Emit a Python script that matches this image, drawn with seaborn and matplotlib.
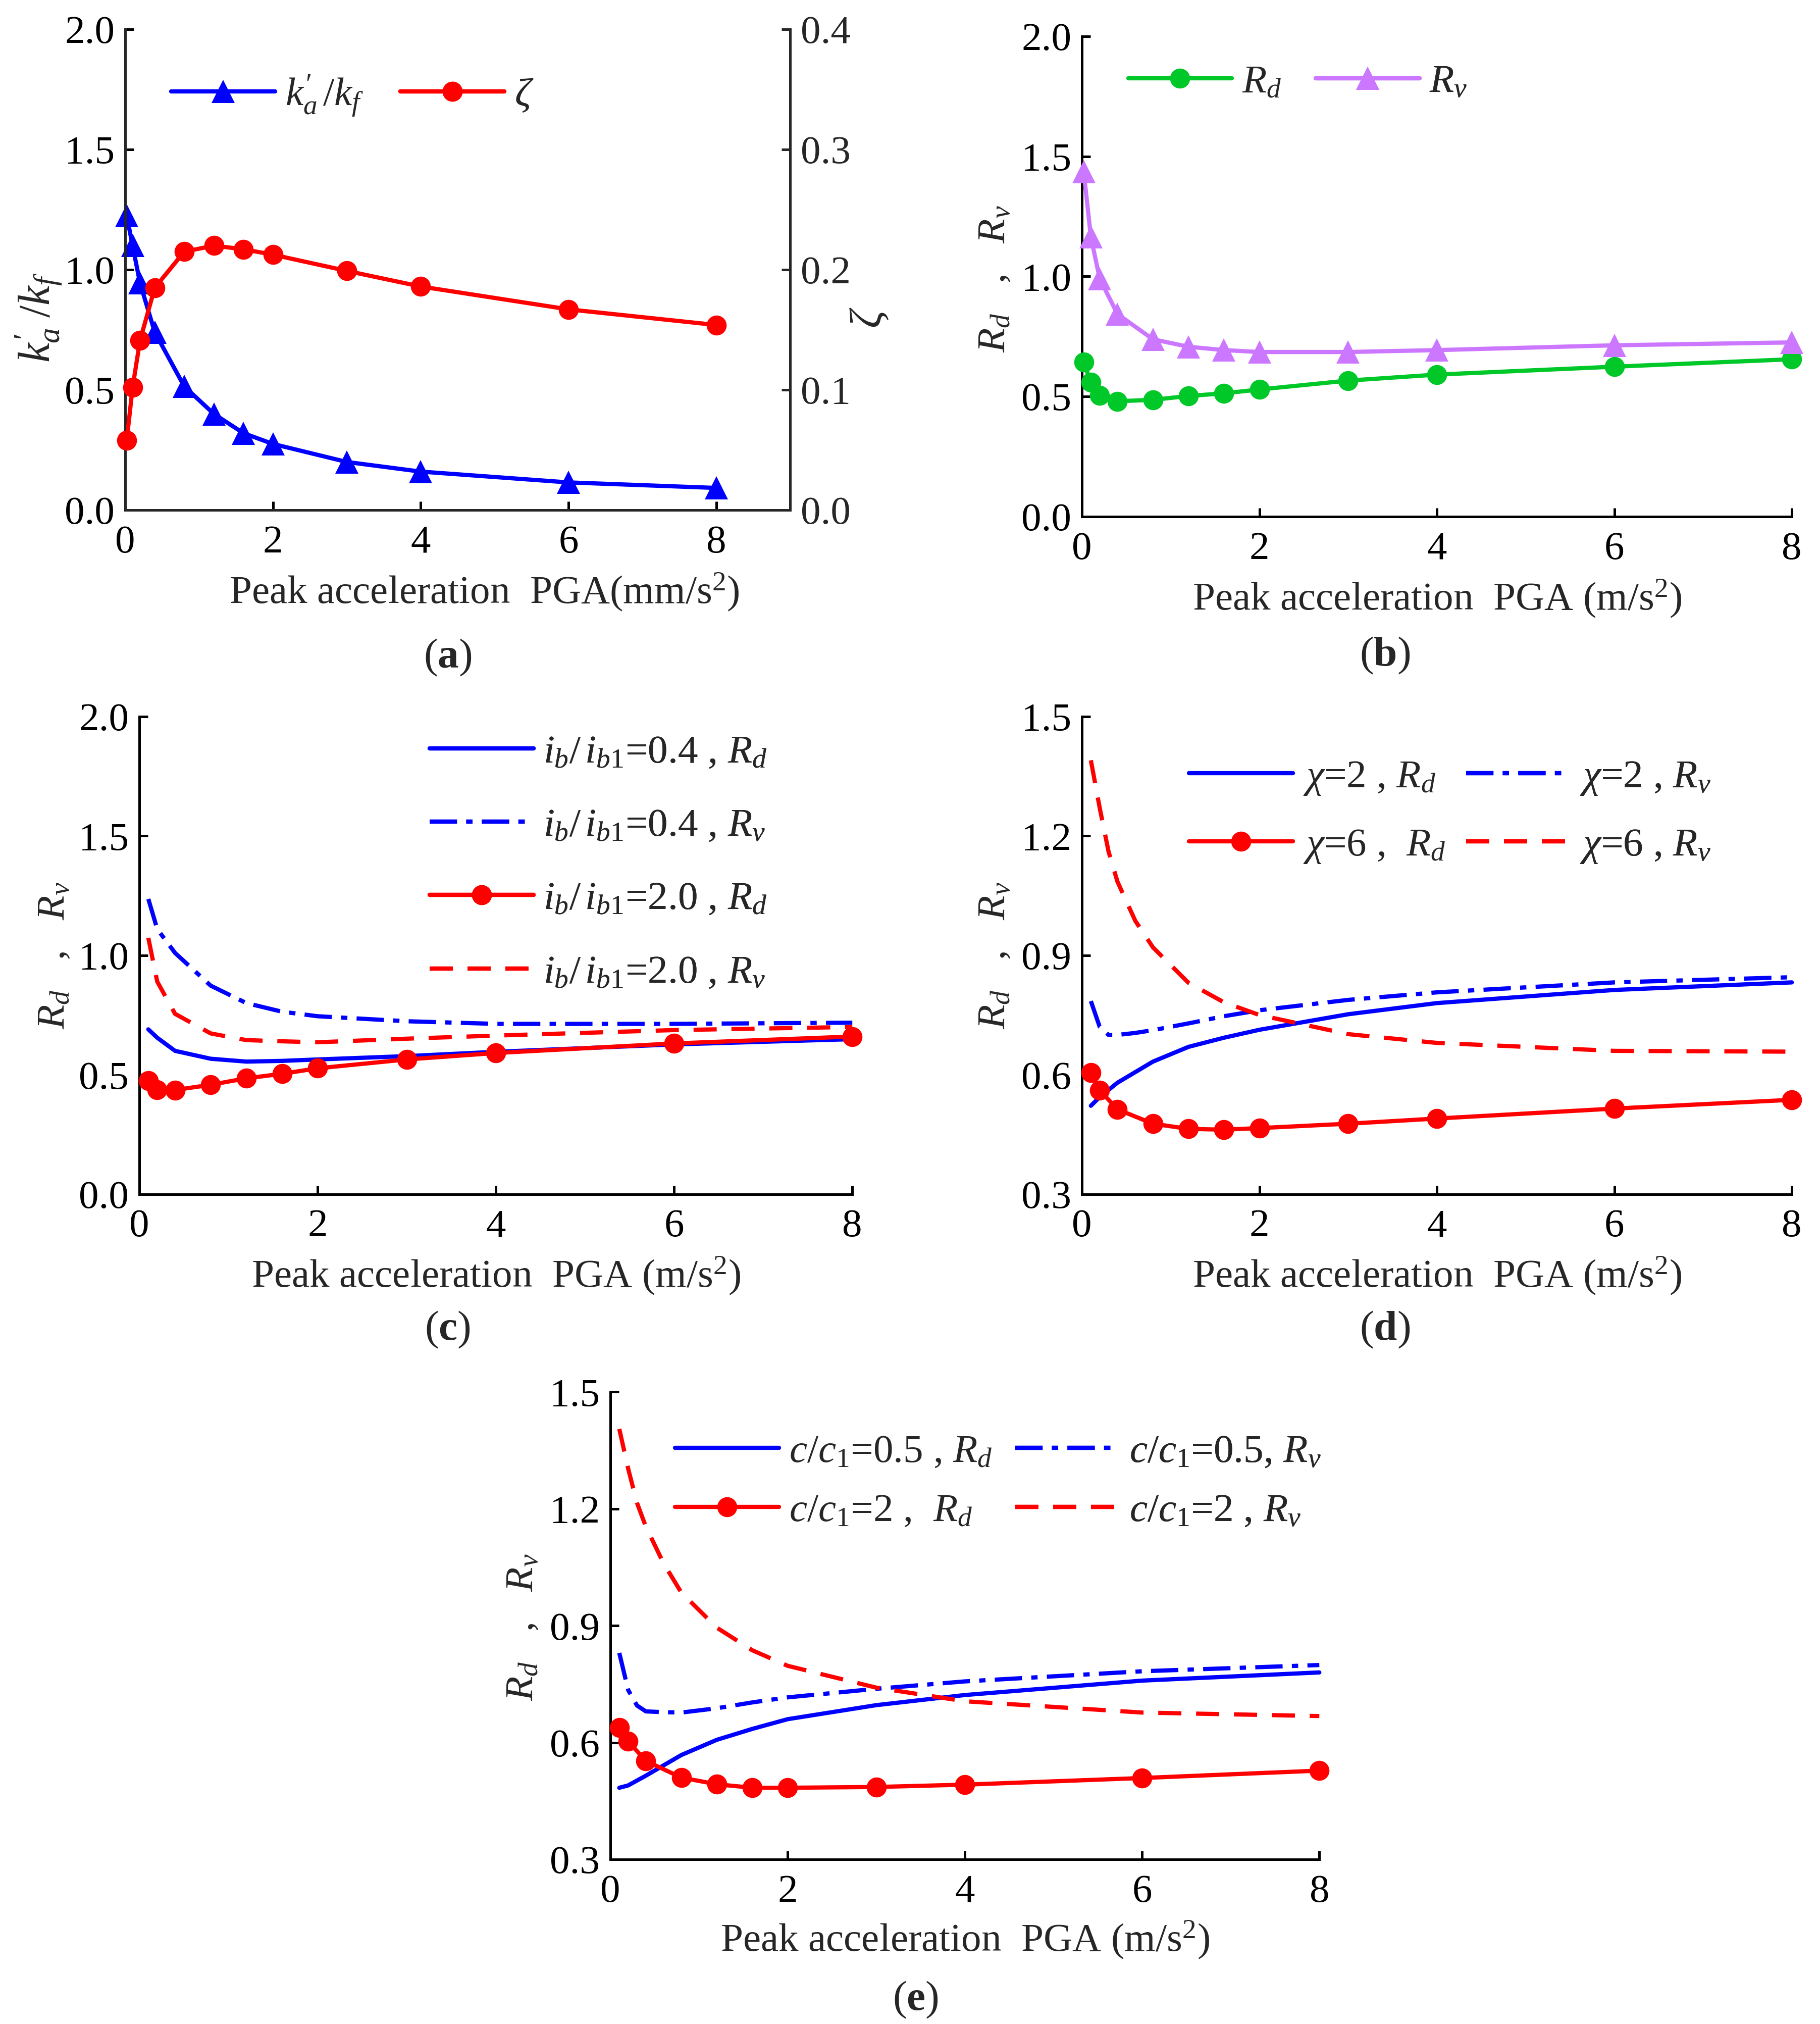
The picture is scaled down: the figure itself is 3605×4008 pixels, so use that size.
import numpy as np
import pandas as pd
import matplotlib
matplotlib.use("Agg")
import matplotlib.pyplot as plt
import seaborn as sns
from matplotlib.ticker import FormatStrFormatter, MultipleLocator

# ---- datos ----
pga_ab = [0.02, 0.1, 0.2, 0.4, 0.8, 1.2, 1.6, 2, 3, 4, 6, 8]
ka_kf = [1.225, 1.10, 0.945, 0.74, 0.514, 0.40, 0.32, 0.275, 0.20, 0.16, 0.115, 0.092]
zeta = [0.058, 0.102, 0.141, 0.185, 0.215, 0.220, 0.217, 0.2125, 0.199, 0.186, 0.167, 0.154]

rd_b = [0.644, 0.558, 0.504, 0.48, 0.486, 0.502, 0.513, 0.529, 0.566, 0.591, 0.624, 0.655]
rv_b = [1.435, 1.164, 0.99, 0.843, 0.738, 0.707, 0.693, 0.685, 0.685, 0.693, 0.713, 0.725]

pga = [0.1, 0.2, 0.4, 0.8, 1.2, 1.6, 2, 3, 4, 6, 8]
pga_v = [0.1, 0.2, 0.3, 0.4, 0.6, 0.8, 1.2, 1.6, 2, 3, 4, 6, 8]

# (c) i_b / i_b1
rd_c04 = [0.69, 0.655, 0.60, 0.567, 0.555, 0.558, 0.564, 0.578, 0.596, 0.627, 0.649]
rv_c04 = [1.236, 1.11, 1.01, 0.873, 0.80, 0.764, 0.745, 0.724, 0.713, 0.713, 0.718]
rd_c20 = [0.476, 0.438, 0.436, 0.458, 0.485, 0.504, 0.527, 0.564, 0.591, 0.631, 0.66]
rv_c20 = [1.073, 0.89, 0.755, 0.673, 0.645, 0.64, 0.636, 0.651, 0.664, 0.687, 0.70]

# (d) chi
rd_d2 = [0.522, 0.544, 0.58, 0.633, 0.67, 0.693, 0.713, 0.752, 0.78, 0.813, 0.832]
rv_d2 = [0.785, 0.72, 0.70, 0.70, 0.705, 0.712, 0.729, 0.747, 0.762, 0.788, 0.807, 0.832, 0.845]
rd_d6 = [0.605, 0.561, 0.513, 0.477, 0.464, 0.462, 0.466, 0.477, 0.49, 0.515, 0.537]
rv_d6 = [1.39, 1.27, 1.16, 1.085, 0.987, 0.92, 0.831, 0.782, 0.75, 0.702, 0.68, 0.66, 0.658]

# (e) c / c1
rd_e05 = [0.484, 0.49, 0.515, 0.568, 0.607, 0.635, 0.66, 0.696, 0.722, 0.759, 0.78]
rv_e05 = [0.83, 0.735, 0.695, 0.68, 0.678, 0.677, 0.688, 0.703, 0.716, 0.738, 0.757, 0.783, 0.799]
rd_e2 = [0.638, 0.603, 0.553, 0.51, 0.493, 0.484, 0.484, 0.486, 0.492, 0.509, 0.528]
rv_e2 = [1.405, 1.303, 1.215, 1.154, 1.06, 0.985, 0.895, 0.837, 0.797, 0.741, 0.706, 0.677, 0.668]

BLUE = "#0000FF"
RED = "#FF0000"
GREEN = "#00C828"
VIOLET = "#CC77FF"
FS = 19

sns.set_style("ticks")
plt.rcParams['font.family'] = ['Liberation Serif', 'DejaVu Serif']
plt.rcParams['mathtext.fontset'] = 'custom'
plt.rcParams['mathtext.rm'] = 'Liberation Serif'
plt.rcParams['mathtext.it'] = 'Liberation Serif:italic'
plt.rcParams['mathtext.bf'] = 'Liberation Serif:bold'
plt.rcParams['axes.linewidth'] = 1.2

DASH = (5.5, 3.5)
DASHDOT = (6.5, 2.2, 1.5, 2.2)


def linea(ax, x, y, color, marker=None, ms=9.5, dashes=None, label=None):
    sns.lineplot(x=x, y=y, ax=ax, color=color, lw=2.0, marker=marker,
                 markersize=ms, markeredgewidth=0, clip_on=False,
                 label=label, legend=False, zorder=3)
    ln = ax.lines[-1]
    if dashes is not None:
        ln.set_dashes(dashes)
    ln.set_label(label)
    return ln


def estilo(ax, ylim, ystep, xmax=8):
    ax.set_xlim(0, xmax)
    ax.set_ylim(*ylim)
    ax.xaxis.set_major_locator(MultipleLocator(2))
    ax.yaxis.set_major_locator(MultipleLocator(ystep))
    ax.yaxis.set_major_formatter(FormatStrFormatter('%.1f'))
    ax.tick_params(direction='in', length=4, width=1.2, labelsize=FS,
                   colors='black')
    ax.tick_params(axis='x', pad=7)
    ax.tick_params(axis='y', pad=5)
    ax.spines['top'].set_visible(False)
    ax.spines['right'].set_visible(False)
    for s in ax.spines.values():
        s.set_color('black')
    ax.grid(False)


def leyenda(ax, handles, x, y, spacing=0.5):
    leg = ax.legend(handles=handles, labels=[h.get_label() for h in handles],
                    loc='center left', bbox_to_anchor=(x, y), frameon=False,
                    borderpad=0, borderaxespad=0, handlelength=2.6,
                    handletextpad=0.25, labelspacing=spacing, fontsize=FS)
    ax.add_artist(leg)
    return leg


def xlabel(ax, text, x=0.5):
    ax.set_xlabel(text, fontsize=FS)
    ax.xaxis.set_label_coords(x, -0.128)


def ylabel(ax, x, y=0.5):
    ax.set_ylabel(r"$R_d$   ,   $R_v$", fontsize=FS)
    ax.yaxis.set_label_coords(x, y)


fig = plt.figure(figsize=(3605 / 300, 4008 / 300), dpi=300)

# ---- (a) ----
axa = fig.add_axes([0.0688, 0.748, 0.3653, 0.2375])
axa2 = axa.twinx()
la = linea(axa, pga_ab, ka_kf, BLUE, marker='^', ms=11, label=r"$k_a^{\prime}\,/k_f$")
lz = linea(axa2, pga_ab, zeta, RED, marker='o', label=r"$\zeta$")
estilo(axa, (0, 2.0), 0.5, xmax=9)
axa.set_xticks([0, 2, 4, 6, 8])
axa2.set_ylim(0, 0.4)
axa2.yaxis.set_major_locator(MultipleLocator(0.1))
axa2.yaxis.set_major_formatter(FormatStrFormatter('%.1f'))
axa2.tick_params(direction='in', length=4, width=1.2, labelsize=FS, pad=5)
axa2.spines['top'].set_visible(False)
axa2.spines['right'].set_visible(True)
axa2.grid(False)
axa.set_ylabel(r"$k_a^{\prime}\;/k_f$", fontsize=FS + 2)
axa.yaxis.set_label_coords(-0.093, 0.40)
axa2.set_ylabel(r"$\zeta$", fontsize=FS + 2)
axa2.yaxis.set_label_coords(1.09, 0.40)
xlabel(axa, r"Peak acceleration  PGA(mm/s$^2$)", x=0.54)
leyenda(axa2, [la], 0.069, 0.862)
leyenda(axa2, [lz], 0.414, 0.862)

# ---- (b) ----
axb = fig.add_axes([0.5945, 0.7448, 0.390, 0.2373])
lb1 = linea(axb, pga_ab, rd_b, GREEN, marker='o', label=r"$R_d$")
lb2 = linea(axb, pga_ab, rv_b, VIOLET, marker='^', ms=11, label=r"$R_v$")
estilo(axb, (0, 2.0), 0.5)
ylabel(axb, -0.097, 0.495)
xlabel(axb, r"Peak acceleration  PGA (m/s$^2$)")
leyenda(axb, [lb1], 0.065, 0.903)
leyenda(axb, [lb2], 0.329, 0.903)

# ---- (c) ----
axc = fig.add_axes([0.0766, 0.41, 0.3917, 0.236])
lc1 = linea(axc, pga, rd_c04, BLUE, label=r"$i_b/\,i_{b1}$=0.4 , $R_d$")
lc2 = linea(axc, pga, rv_c04, BLUE, dashes=DASHDOT, label=r"$i_b/\,i_{b1}$=0.4 , $R_v$")
lc3 = linea(axc, pga, rd_c20, RED, marker='o', label=r"$i_b/\,i_{b1}$=2.0 , $R_d$")
lc4 = linea(axc, pga, rv_c20, RED, dashes=DASH, label=r"$i_b/\,i_{b1}$=2.0 , $R_v$")
estilo(axc, (0, 2.0), 0.5)
ylabel(axc, -0.094)
xlabel(axc, r"Peak acceleration  PGA (m/s$^2$)")
leyenda(axc, [lc1, lc2, lc3, lc4], 0.407, 0.694, spacing=0.92)

# ---- (d) ----
axd = fig.add_axes([0.5945, 0.41, 0.390, 0.236])
ld1 = linea(axd, pga, rd_d2, BLUE, label=r"$\chi$=2 , $R_d$")
ld2 = linea(axd, pga_v, rv_d2, BLUE, dashes=DASHDOT, label=r"$\chi$=2 , $R_v$")
ld3 = linea(axd, pga, rd_d6, RED, marker='o', label=r"$\chi$=6 ,  $R_d$")
ld4 = linea(axd, pga_v, rv_d6, RED, dashes=DASH, label=r"$\chi$=6 , $R_v$")
estilo(axd, (0.3, 1.5), 0.3)
ylabel(axd, -0.097)
xlabel(axd, r"Peak acceleration  PGA (m/s$^2$)")
leyenda(axd, [ld1, ld3], 0.151, 0.80, spacing=0.77)
leyenda(axd, [ld2, ld4], 0.541, 0.80, spacing=0.77)

# ---- (e) ----
axe = fig.add_axes([0.3354, 0.0813, 0.3895, 0.231])
le1 = linea(axe, pga, rd_e05, BLUE, label=r"$c/c_1$=0.5 , $R_d$")
le2 = linea(axe, pga_v, rv_e05, BLUE, dashes=DASHDOT, label=r"$c/c_1$=0.5, $R_v$")
le3 = linea(axe, pga, rd_e2, RED, marker='o', label=r"$c/c_1$=2 ,  $R_d$")
le4 = linea(axe, pga_v, rv_e2, RED, dashes=DASH, label=r"$c/c_1$=2 , $R_v$")
estilo(axe, (0.3, 1.5), 0.3)
ylabel(axe, -0.098, 0.497)
xlabel(axe, r"Peak acceleration  PGA (m/s$^2$)")
leyenda(axe, [le1, le3], 0.091, 0.808, spacing=0.57)
leyenda(axe, [le2, le4], 0.571, 0.808, spacing=0.57)

# ---- etiquetas de subfigura ----
for txt, x, y in [("a", 0.246, 0.675), ("b", 0.761, 0.676),
                  ("c", 0.246, 0.343), ("d", 0.761, 0.343),
                  ("e", 0.503, 0.012)]:
    fig.text(x, y, "(" + r"$\mathbf{" + txt + "}$" + ")", ha='center', va='center',
             fontsize=FS + 1)

fig.savefig("out.png", dpi=300, facecolor='white')
